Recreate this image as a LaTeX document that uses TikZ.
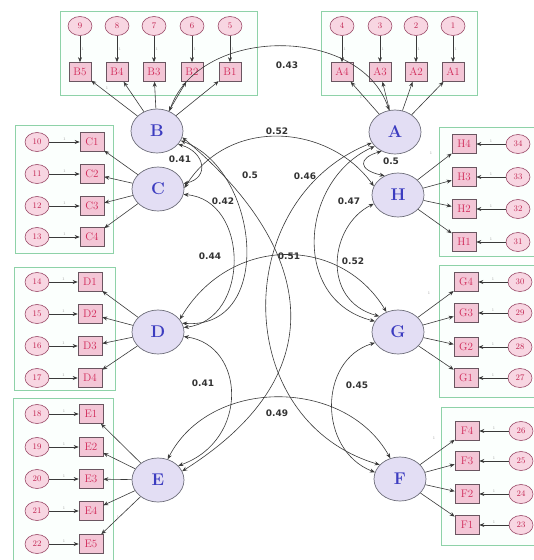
\documentclass[tikz,border=0pt]{standalone}
\usepackage{fontspec}
\newfontfamily\labfont{DejaVu Sans}
\usetikzlibrary{arrows.meta,shapes.geometric}
\definecolor{latfill}{HTML}{E3DEF4}
\definecolor{latdraw}{HTML}{6E6E7A}
\definecolor{lattext}{HTML}{3C3CC0}
\definecolor{indfill}{HTML}{F3C6D6}
\definecolor{inddraw}{HTML}{6A5560}
\definecolor{indtext}{HTML}{D02858}
\definecolor{errfill}{HTML}{F8D6E2}
\definecolor{errdraw}{HTML}{9A4A68}
\definecolor{errtext}{HTML}{C0204E}
\definecolor{grpgreen}{HTML}{8ED2A8}
\definecolor{grpfill}{HTML}{FBFFFD}
\definecolor{linecol}{HTML}{3A3A3A}
\definecolor{labcol}{HTML}{333333}
\begin{document}
\begin{tikzpicture}[x=1pt,y=-1pt,
  lat/.style={ellipse, draw=latdraw, fill=latfill, line width=0.7pt, minimum width=52, minimum height=44, inner sep=0pt, text=lattext, font=\fontsize{17}{17}\selectfont\bfseries},
  ind/.style={rectangle, draw=inddraw, fill=indfill, line width=0.6pt, minimum width=22, minimum height=19, inner sep=0pt, text=indtext, font=\fontsize{11}{11}\selectfont},
  err/.style={ellipse, draw=errdraw, fill=errfill, line width=0.6pt, minimum width=24, minimum height=19, inner sep=0pt, text=errtext, font=\fontsize{8.5}{8.5}\selectfont},
  grp/.style={draw=grpgreen, line width=0.6pt, fill=grpfill},
  load/.style={draw=linecol, line width=0.6pt, -{Stealth[length=5pt,width=4pt]}},
  cov/.style={draw=linecol, line width=0.6pt, {Stealth[length=5pt,width=4pt]}-{Stealth[length=5pt,width=4pt]}},
  cl/.style={font=\labfont\bfseries\fontsize{9}{9}\selectfont, text=labcol, inner sep=0pt},
  one/.style={font=\fontsize{4}{4}\selectfont, text=gray!70, inner sep=1pt}]
\useasboundingbox (0,0) rectangle (534,560);
\clip (0,0) rectangle (534,560);
\fill[white] (0,0) rectangle (534,560);
% group frames
\draw[grp] (60,11) rectangle (257,95);
\draw[grp] (321,11) rectangle (477,95);
\draw[grp] (15,125) rectangle (113,253);
\draw[grp] (14,267) rectangle (115,390);
\draw[grp] (13,398) rectangle (113,566);
\draw[grp] (439,127) rectangle (540,256);
\draw[grp] (439,265) rectangle (540,397);
\draw[grp] (441,407) rectangle (540,545);
% latent variables
\node[lat] (B) at (157,131) {B};
\node[lat] (A) at (395,132) {A};
\node[lat] (C) at (158,189) {C};
\node[lat] (H) at (398,195) {H};
\node[lat] (D) at (158,332) {D};
\node[lat] (G) at (398,332) {G};
\node[lat] (E) at (158,480) {E};
\node[lat] (F) at (400,479) {F};
% B block
\foreach \x/\e/\b in {80/9/5,117/8/4,154/7/3,192/6/2,230/5/1}{
  \node[err] (eB\b) at (\x,26) {\e};
  \node[ind] (B\b) at (\x,72) {B\b};
  \draw[load] (eB\b) -- node[one,right]{1} (B\b);
  \draw[load] (B) -- (B\b);
}
% A block
\foreach \x/\e/\b in {342/4/4,380/3/3,416/2/2,453/1/1}{
  \node[err] (eA\b) at (\x,26) {\e};
  \node[ind] (A\b) at (\x,72) {A\b};
  \draw[load] (eA\b) -- node[one,right]{1} (A\b);
  \draw[load] (A) -- (A\b);
}
% C block
\foreach \y/\e/\b in {142/10/1,174/11/2,206/12/3,237/13/4}{
  \node[err] (eC\b) at (37,\y) {\e};
  \node[ind, minimum width=24] (C\b) at (92,\y) {C\b};
  \draw[load] (eC\b) -- node[one,above]{1} (C\b);
  \draw[load] (C) -- (C\b);
}
% D block
\foreach \y/\e/\b in {282/14/1,314/15/2,346/16/3,378/17/4}{
  \node[err] (eD\b) at (37,\y) {\e};
  \node[ind, minimum width=24] (D\b) at (90,\y) {D\b};
  \draw[load] (eD\b) -- node[one,above]{1} (D\b);
  \draw[load] (D) -- (D\b);
}
% E block
\foreach \y/\e/\b in {414/18/1,447/19/2,479/20/3,511/21/4,544/22/5}{
  \node[err] (eE\b) at (37,\y) {\e};
  \node[ind, minimum width=24] (E\b) at (91,\y) {E\b};
  \draw[load] (eE\b) -- node[one,above]{1} (E\b);
  \draw[load] (E) -- (E\b);
}
% H block
\foreach \y/\e/\b in {144/34/4,177/33/3,209/32/2,242/31/1}{
  \node[err] (eH\b) at (518,\y) {\e};
  \node[ind, minimum width=24] (H\b) at (464,\y) {H\b};
  \draw[load] (eH\b) -- node[one,above]{1} (H\b);
  \draw[load] (H) -- (H\b);
}
% G block
\foreach \y/\e/\b in {282/30/4,313/29/3,347/28/2,378/27/1}{
  \node[err] (eG\b) at (520,\y) {\e};
  \node[ind, minimum width=24] (G\b) at (466,\y) {G\b};
  \draw[load] (eG\b) -- node[one,above]{1} (G\b);
  \draw[load] (G) -- (G\b);
}
% F block
\foreach \y/\e/\b in {431/26/4,461/25/3,494/24/2,525/23/1}{
  \node[err] (eF\b) at (521,\y) {\e};
  \node[ind, minimum width=24] (F\b) at (467,\y) {F\b};
  \draw[load] (eF\b) -- node[one,above]{1} (F\b);
  \draw[load] (F) -- (F\b);
}
% fixed loadings marks
\node[one] (m1) at (107,88) {1};
\node[one] (m2) at (361,97) {1};
\node[one] (m3) at (117,217) {1};
\node[one] (m4) at (118,517) {1};
\node[one] (m5) at (431,153) {1};
\node[one] (m6) at (429,293) {1};
\node[one] (m7) at (434,438) {1};
% covariances
\draw[cov] (B.58) .. controls (200,25) and (360,25) .. (A.105);
\draw[cov] (B.-32) .. controls (205,152) and (210,178) .. (C.12);
\draw[cov] (C.2) .. controls (230,115) and (330,125) .. (H.160);
\draw[cov] (A.235) .. controls (358,158) and (358,170) .. (H.125);
\draw[cov] (A.205) .. controls (230,200) and (230,420) .. (F.145);
\draw[cov] (B.-14) .. controls (300,235) and (350,365) .. (E.20);
\draw[cov] (A.215) .. controls (300,180) and (290,300) .. (G.155);
\draw[cov] (H.200) .. controls (330,225) and (320,300) .. (G.140);
\draw[cov] (D.30) .. controls (230,235) and (340,235) .. (G.120);
\draw[cov] (C.-12) .. controls (250,200) and (250,320) .. (D.10);
\draw[cov] (B.-22) .. controls (260,170) and (275,330) .. (D.20);
\draw[cov] (D.-10) .. controls (245,345) and (250,440) .. (E.35);
\draw[cov] (E.65) .. controls (210,377) and (345,377) .. (F.115);
\draw[cov] (G.205) .. controls (318,360) and (318,450) .. (F.165);
% covariance labels
\node[cl] (l1) at (287,65) {0.43};
\node[cl] (l2) at (277,131) {0.52};
\node[cl] (l3) at (180,159) {0.41};
\node[cl] (l4) at (391,161) {0.5};
\node[cl] (l5) at (250,175) {0.5};
\node[cl] (l6) at (305,176) {0.46};
\node[cl] (l7) at (223,201) {0.42};
\node[cl] (l8) at (349,201) {0.47};
\node[cl] (l9) at (210,256) {0.44};
\node[cl] (l10) at (289,256) {0.51};
\node[cl] (l11) at (353,261) {0.52};
\node[cl] (l12) at (203,383) {0.41};
\node[cl] (l13) at (357,385) {0.45};
\node[cl] (l14) at (277,413) {0.49};
\end{tikzpicture}
\end{document}
